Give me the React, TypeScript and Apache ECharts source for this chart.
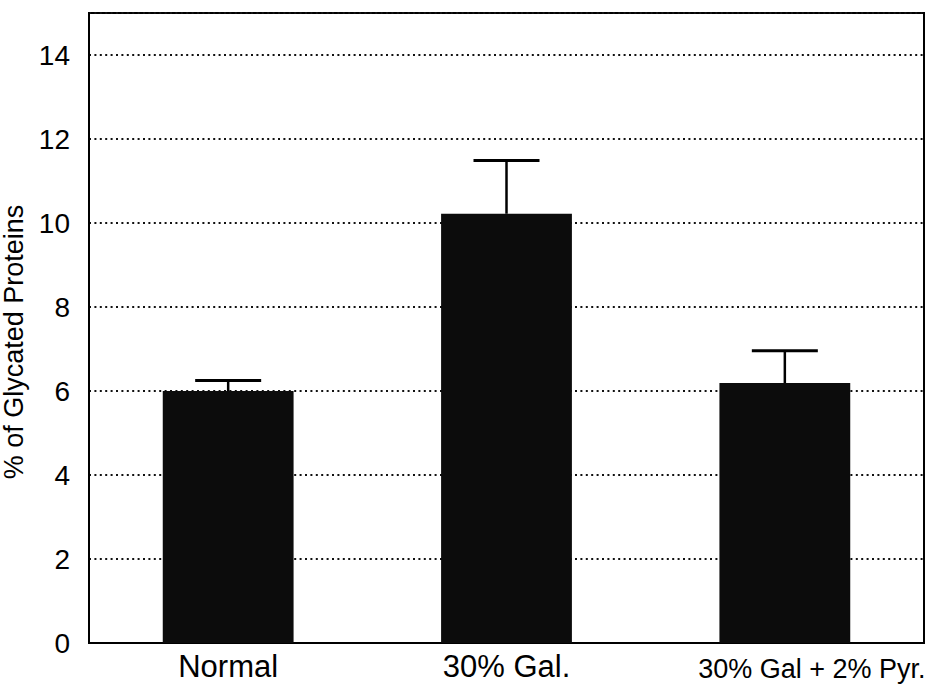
import React, { useEffect, useRef } from "react";
import * as echarts from "echarts";

const categories = ["Normal", "30% Gal.", "30% Gal + 2% Pyr."];
const means = [6.0, 10.22, 6.19];
const upperErrors = [6.25, 11.49, 6.96];
const yTicks = [0, 2, 4, 6, 8, 10, 12, 14];

const FONT = "'Liberation Sans', Arial, Helvetica, sans-serif";

export default function App() {
  const ref = useRef<HTMLDivElement>(null);
  useEffect(() => {
    if (!ref.current) return;
    const chart = echarts.init(ref.current, null, { renderer: "svg" });
    const errData = categories.map((c, i) => [i, means[i], upperErrors[i]]);
    chart.setOption({
      animation: false,
      backgroundColor: "#ffffff",
      grid: {
        left: 89,
        right: 7,
        top: 13,
        bottom: 45,
        outerBoundsMode: "none",
        containLabel: false,
        show: true,
        borderColor: "#000",
        borderWidth: 2,
        backgroundColor: "transparent",
      },
      xAxis: {
        type: "category",
        data: categories.map((c, i) =>
          i === 2
            ? { value: c, textStyle: { fontSize: 27, padding: [4, 0, 0, 54] } }
            : { value: c }
        ),
        axisLine: { show: true, lineStyle: { color: "#000", width: 2 } },
        axisTick: { show: false },
        axisLabel: {
          color: "#000",
          fontFamily: FONT,
          fontSize: 31,
          margin: 8,
          interval: 0,
        },
        splitLine: { show: false },
      },
      yAxis: {
        type: "value",
        min: 0,
        max: 15,
        interval: 2,
        name: "% of Glycated Proteins",
        nameLocation: "middle",
        nameGap: 50,
        nameTextStyle: { color: "#000", fontFamily: FONT, fontSize: 27, padding: [0, 28, 0, 0] },
        axisLine: { show: true, lineStyle: { color: "#000", width: 2 } },
        axisTick: { show: false },
        axisLabel: {
          color: "#000",
          fontFamily: FONT,
          fontSize: 28,
          margin: 19,
          showMaxLabel: false,
          formatter: (v: number) => (yTicks.includes(v) ? String(v) : ""),
        },
        splitLine: {
          show: true,
          lineStyle: { color: "#111", width: 2, type: [2, 3.4] },
        },
      },
      series: [
        {
          type: "bar",
          data: means,
          barWidth: "47%",
          itemStyle: { color: "#0c0c0c" },
          z: 2,
        },
        {
          type: "custom",
          data: errData,
          z: 3,
          renderItem: (params: any, api: any) => {
            const x = api.value(0);
            const base = api.coord([x, api.value(1)]);
            const top = api.coord([x, api.value(2)]);
            const half = 33;
            return {
              type: "group",
              children: [
                {
                  type: "line",
                  shape: { x1: base[0], y1: base[1], x2: top[0], y2: top[1] },
                  style: { stroke: "#000", lineWidth: 2.5 },
                },
                {
                  type: "line",
                  shape: { x1: top[0] - half, y1: top[1], x2: top[0] + half, y2: top[1] },
                  style: { stroke: "#000", lineWidth: 3 },
                },
              ],
            };
          },
        },
      ],
    });
    return () => chart.dispose();
  }, []);
  return <div ref={ref} style={{ width: 931, height: 688, position: "absolute", left: 0, top: 0 }} />;
}
